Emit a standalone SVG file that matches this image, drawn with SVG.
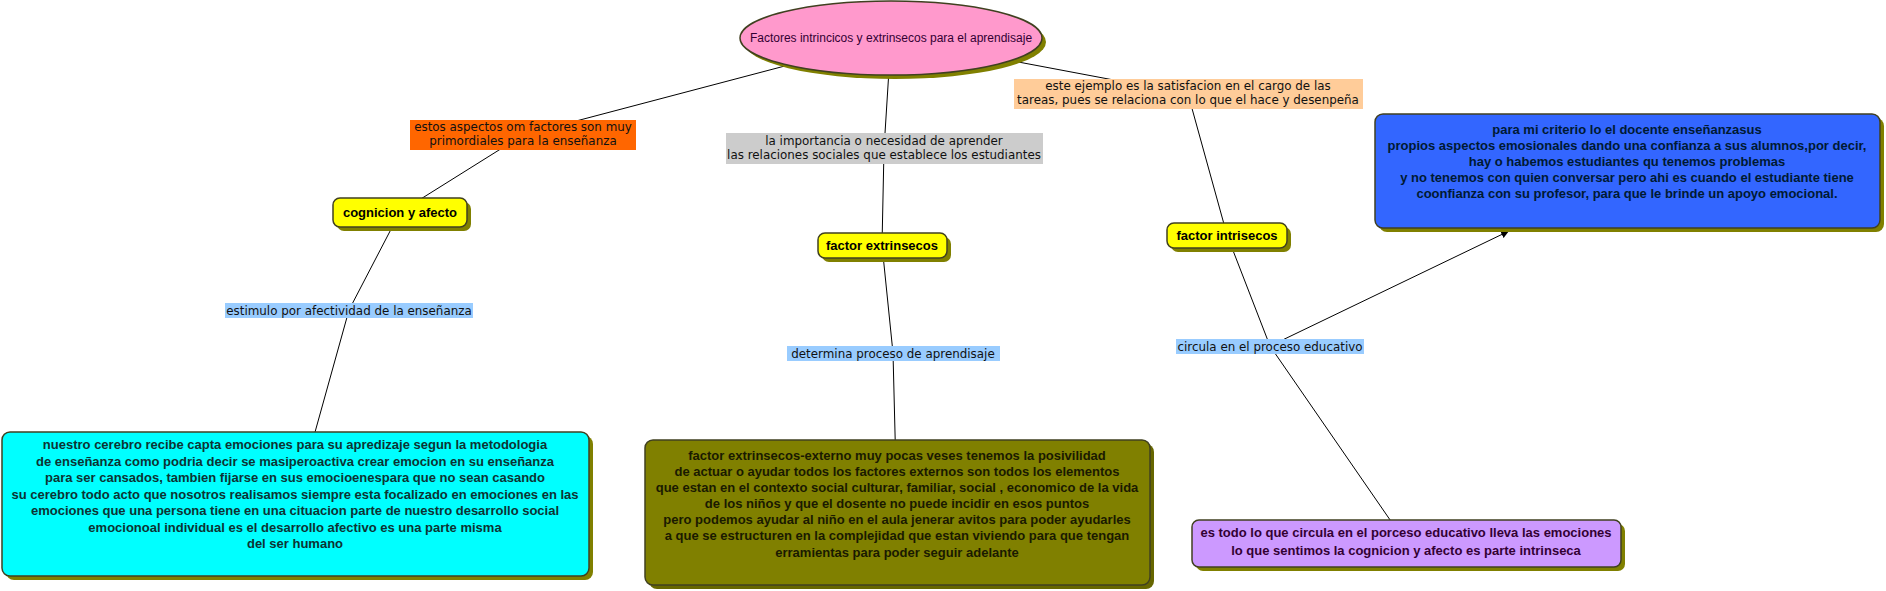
<svg xmlns="http://www.w3.org/2000/svg" width="1886" height="591" viewBox="0 0 1886 591">
<defs>
<style>
.ln{stroke:#000;stroke-width:1;fill:none}
.sh{fill:#808000}
.nd{stroke:#404020;stroke-width:1.5}
.bt{font-family:"Liberation Sans",Arial,sans-serif;font-weight:bold;font-size:13px;text-anchor:middle}
.lt{font-family:"DejaVu Sans",Verdana,sans-serif;font-size:11.9px;text-anchor:middle;fill:#111}
</style>
<marker id="ah" viewBox="0 0 10 10" refX="10" refY="5" markerWidth="8" markerHeight="8" markerUnits="userSpaceOnUse" orient="auto">
<path d="M0,0 L10,5 L0,10 z" fill="#000"/>
</marker>
</defs>
<rect width="1886" height="591" fill="#fff"/>
<g id="connectors">
<line class="ln" x1="891" y1="38" x2="523" y2="135"/>
<line class="ln" x1="523" y1="135" x2="400" y2="212"/>
<line class="ln" x1="400" y1="212" x2="349" y2="310"/>
<line class="ln" x1="349" y1="310" x2="295" y2="504"/>
<line class="ln" x1="891" y1="38" x2="884" y2="149"/>
<line class="ln" x1="884" y1="149" x2="882" y2="245"/>
<line class="ln" x1="882" y1="245" x2="893" y2="353"/>
<line class="ln" x1="893" y1="353" x2="897" y2="512"/>
<line class="ln" x1="891" y1="38" x2="1188" y2="94"/>
<line class="ln" x1="1188" y1="94" x2="1227" y2="235"/>
<line class="ln" x1="1227" y1="235" x2="1270" y2="346"/>
<line class="ln" x1="1270" y1="346" x2="1406" y2="543"/>
<line class="ln" x1="1270" y1="346" x2="1509" y2="231" marker-end="url(#ah)"/>
</g>
<g id="root">
<ellipse class="sh" cx="895" cy="42" rx="151" ry="37"/>
<ellipse class="nd" cx="891" cy="38" rx="151" ry="37" fill="#ff99cc"/>
<text x="891" y="42" font-family="Liberation Sans,Arial,sans-serif" font-size="12" text-anchor="middle" fill="#330033">Factores intrincicos y extrinsecos para el aprendisaje</text>
</g>
<g id="label-orange">
<rect x="410" y="120" width="226" height="30" fill="#ff6600"/>
<text class="lt" x="523" y="131">estos aspectos om factores son muy</text>
<text class="lt" x="523" y="145">primordiales para la enseñanza</text>
</g>
<g id="label-gray">
<rect x="726" y="133" width="317" height="31" fill="#cccccc"/>
<text class="lt" x="884" y="145">la importancia o necesidad de aprender</text>
<text class="lt" x="884" y="159">las relaciones sociales que establece los estudiantes</text>
</g>
<g id="label-peach">
<rect x="1014" y="79" width="349" height="30" fill="#ffcc99"/>
<text class="lt" x="1188" y="90">este ejemplo es la satisfacion en el cargo de las</text>
<text class="lt" x="1188" y="104">tareas, pues se relaciona con lo que el hace y desenpeña</text>
</g>
<g id="cognicion">
<rect class="sh" x="337" y="202" width="134" height="29" rx="7"/>
<rect class="nd" x="333" y="198" width="134" height="29" rx="7" fill="#ffff00"/>
<text class="bt" x="400" y="217" fill="#000">cognicion y afecto</text>
</g>
<g id="extrinsecos">
<rect class="sh" x="822" y="237" width="129" height="25" rx="7"/>
<rect class="nd" x="818" y="233" width="129" height="25" rx="7" fill="#ffff00"/>
<text class="bt" x="882" y="250" fill="#000">factor extrinsecos</text>
</g>
<g id="intrisecos">
<rect class="sh" x="1171" y="227" width="120" height="25" rx="7"/>
<rect class="nd" x="1167" y="223" width="120" height="25" rx="7" fill="#ffff00"/>
<text class="bt" x="1227" y="240" fill="#000">factor intrisecos</text>
</g>
<g id="label-estimulo">
<rect x="225" y="303" width="248" height="15" fill="#99ccff"/>
<text class="lt" x="349" y="315">estimulo por afectividad de la enseñanza</text>
</g>
<g id="label-determina">
<rect x="787" y="346" width="213" height="15" fill="#99ccff"/>
<text class="lt" x="893" y="358">determina proceso de aprendisaje</text>
</g>
<g id="label-circula">
<rect x="1176" y="339" width="188" height="15" fill="#99ccff"/>
<text class="lt" x="1270" y="351">circula en el proceso educativo</text>
</g>
<g id="blue-box">
<rect class="sh" x="1379" y="118" width="505" height="114" rx="8"/>
<rect class="nd" x="1375" y="114" width="505" height="114" rx="8" fill="#3366ff"/>
<g class="bt" fill="#001a33">
<text x="1627" y="134">para mi criterio lo el docente enseñanzasus</text>
<text x="1627" y="150">propios aspectos emosionales dando una confianza a sus alumnos,por decir,</text>
<text x="1627" y="166">hay o habemos estudiantes qu tenemos problemas</text>
<text x="1627" y="182">y no tenemos con quien conversar pero ahi es cuando el  estudiante tiene</text>
<text x="1627" y="198">coonfianza con su profesor, para que le brinde un apoyo emocional.</text>
</g>
</g>
<g id="cyan-box">
<rect class="sh" x="6" y="436" width="587" height="144" rx="8"/>
<rect class="nd" x="2" y="432" width="587" height="144" rx="8" fill="#00ffff"/>
<g class="bt" fill="#0d3333">
<text x="295" y="449">nuestro cerebro recibe capta emociones para su apredizaje segun la metodologia</text>
<text x="295" y="465.5">de enseñanza como podria decir se masiperoactiva crear emocion en su enseñanza</text>
<text x="295" y="482">para ser cansados, tambien fijarse en sus emocioenespara que no sean casando</text>
<text x="295" y="498.5">su cerebro todo acto que nosotros realisamos siempre esta focalizado en emociones en las</text>
<text x="295" y="515">emociones que una persona tiene en una cituacion parte de nuestro desarrollo social</text>
<text x="295" y="531.5">emocionoal individual es el desarrollo afectivo es una parte misma</text>
<text x="295" y="548">del ser humano</text>
</g>
</g>
<g id="olive-box">
<rect x="649" y="444" width="505" height="145" rx="8" fill="#666600"/>
<rect class="nd" x="645" y="440" width="505" height="145" rx="8" fill="#808000"/>
<g class="bt" fill="#1a1a00">
<text x="897" y="460">factor extrinsecos-externo muy pocas veses tenemos la posivilidad</text>
<text x="897" y="476">de actuar o ayudar todos los factores externos son todos los elementos</text>
<text x="897" y="492">que estan en el contexto social culturar, familiar, social , economico de la vida</text>
<text x="897" y="508">de los niños y que el dosente no puede incidir en esos puntos</text>
<text x="897" y="524">pero podemos ayudar al niño en el aula jenerar avitos para poder ayudarles</text>
<text x="897" y="540">a que se estructuren en la complejidad que estan viviendo para que tengan</text>
<text x="897" y="557">erramientas para poder seguir adelante</text>
</g>
</g>
<g id="purple-box">
<rect class="sh" x="1196" y="524" width="429" height="47" rx="7"/>
<rect class="nd" x="1192" y="520" width="429" height="47" rx="7" fill="#cc99ff"/>
<g class="bt" fill="#330033">
<text x="1406" y="537">es todo lo que circula en el porceso educativo lleva las emociones</text>
<text x="1406" y="555">lo que sentimos la cognicion y afecto es parte intrinseca</text>
</g>
</g>
</svg>
